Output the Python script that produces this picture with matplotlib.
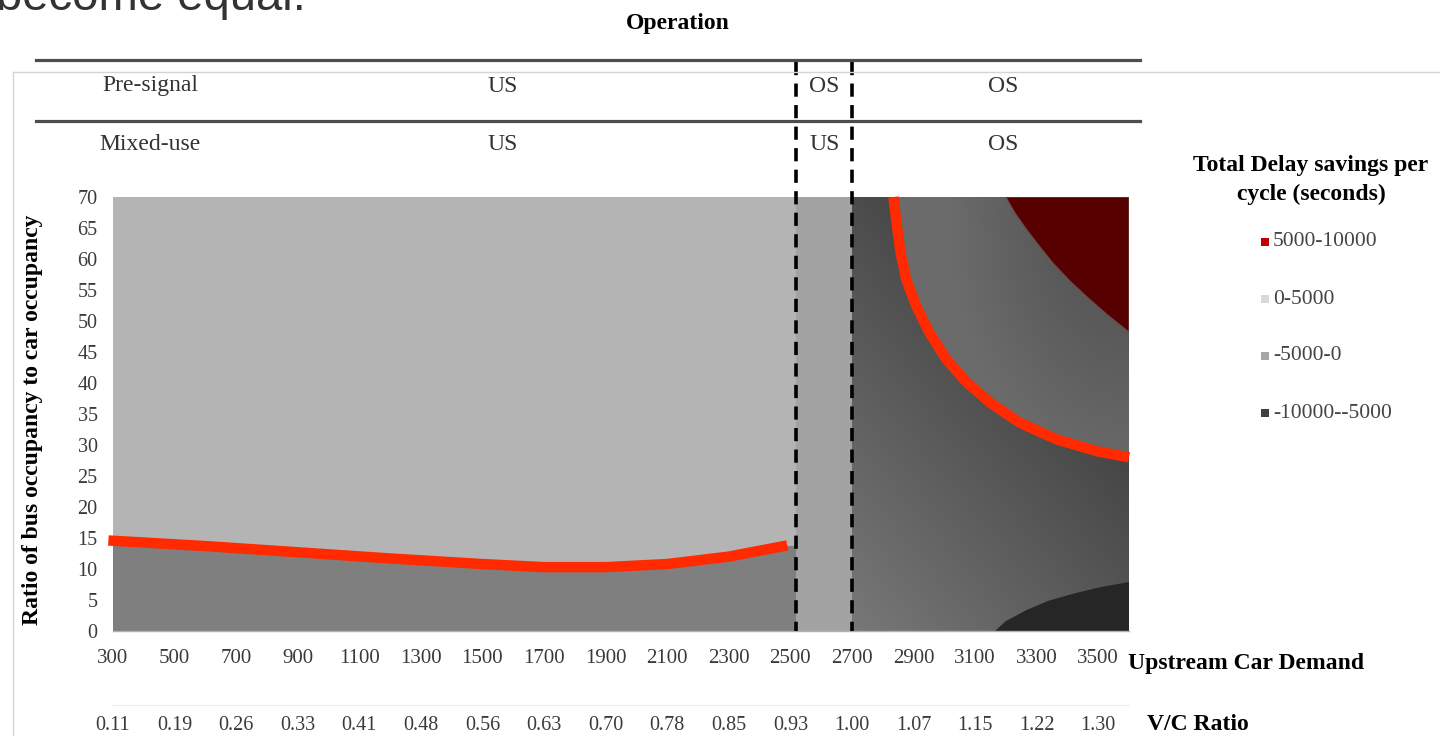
import matplotlib.pyplot as plt
import numpy as np
from matplotlib.lines import Line2D
from matplotlib.patches import Polygon, Rectangle

plt.rcParams['font.family'] = ['Liberation Serif', 'DejaVu Serif']
plt.rcParams['lines.scale_dashes'] = False

# upstream car demand ticks and the matching V/C ratio (capacity 2700)
demand_ticks = [300, 500, 700, 900, 1100, 1300, 1500, 1700, 1900,
                2100, 2300, 2500, 2700, 2900, 3100, 3300, 3500]
vc_labels = ['0.11', '0.19', '0.26', '0.33', '0.41', '0.48', '0.56', '0.63', '0.70',
             '0.78', '0.85', '0.93', '1.00', '1.07', '1.15', '1.22', '1.30']
ratio_ticks = [0, 5, 10, 15, 20, 25, 30, 35, 40, 45, 50, 55, 60, 65, 70]
demand_range = [300, 3600]
ratio_range = [0, 70]

# operating-regime boundaries (US = undersaturated, OS = oversaturated)
regime_splits = [2520, 2700]
rows = ['Pre-signal', 'Mixed-use']
row_ops = [['US', 'OS', 'OS'],
           ['US', 'US', 'OS']]
op_label_x = [1565, 2610, 3190]

# zero-savings curve, undersaturated side
us_zero_x = [285, 600, 900, 1200, 1500, 1700, 1900, 2100, 2300, 2490]
us_zero_y = [14.6, 13.7, 12.7, 11.7, 10.8, 10.3, 10.3, 10.8, 12.0, 13.8]

# zero-savings curve, oversaturated side
os_zero_x = [2835, 2845, 2858, 2877, 2910, 2952, 3007, 3073, 3147, 3245, 3365, 3496, 3600]
os_zero_y = [70.0, 65.8, 61.0, 56.6, 52.3, 48.1, 43.8, 40.1, 36.9, 33.6, 30.9, 29.0, 28.0]

# +5000 s contour (top right) and -5000 s contour (bottom right)
high_x = [3200, 3230, 3268, 3310, 3352, 3405, 3463, 3530, 3600]
high_y = [70.0, 67.4, 64.7, 62.0, 59.4, 56.6, 53.9, 51.0, 48.2]
low_x = [3165, 3200, 3268, 3340, 3418, 3500, 3600]
low_y = [0.0, 1.6, 3.4, 4.9, 6.0, 7.0, 7.9]

legend_labels = ['5000-10000', '0-5000', '-5000-0', '-10000--5000']
legend_colors = ['#c00000', '#d9d9d9', '#a6a6a6', '#404040']

W, H = 1440, 736


def fx(p):
    return p / W


def fy(p):
    return 1 - p / H


fig = plt.figure(figsize=(W / 100, H / 100), dpi=100)
ax = fig.add_axes([fx(113), fy(631), (1129 - 113) / W, (631 - 197) / H])

# --- surface bands -----------------------------------------------------------
ax.fill_between([demand_range[0], regime_splits[0]],
                ratio_range[0], ratio_range[1], color='#b4b4b4', lw=0)
ax.fill_between(np.r_[us_zero_x, regime_splits[0]], 0,
                np.r_[us_zero_y, us_zero_y[-1]], color='#7f7f7f', lw=0)
ax.fill_between(regime_splits, ratio_range[0], ratio_range[1], color='#a3a3a3', lw=0)

# shaded region right of capacity, split by the zero curve
u, v = np.meshgrid(np.linspace(0, 1, 300), np.linspace(0, 1, 300))
below = np.clip(0.47 - 0.17 * v - 0.13 * u, 0.27, 1)
r = np.hypot(1 - u, 1 - v)
above = np.clip(0.35 + 0.2 * (r - 0.3), 0.35, 0.42)
ext = [regime_splits[1], demand_range[1], ratio_range[0], ratio_range[1]]
zero_pts = list(zip(os_zero_x, os_zero_y))

poly_below = Polygon([(regime_splits[1], 0), (regime_splits[1], 70)] + zero_pts
                     + [(demand_range[1], 0)], transform=ax.transData)
poly_above = Polygon(zero_pts + [(demand_range[1], 70)], transform=ax.transData)
for shade, poly in [(below, poly_below), (above, poly_above)]:
    im = ax.imshow(np.dstack([shade] * 3), extent=ext, origin='lower',
                   aspect='auto', interpolation='bilinear')
    im.set_clip_path(poly)

ax.add_patch(Polygon(list(zip(high_x, high_y)) + [(demand_range[1], 70)],
                     closed=True, facecolor='#560000', edgecolor='#6e4a4a', lw=0.8))
ax.add_patch(Polygon(list(zip(low_x, low_y)) + [(demand_range[1], 0)],
                     closed=True, color='#262626', lw=0))

# break-even curves
for xs, ys in [(us_zero_x, us_zero_y), (os_zero_x, os_zero_y)]:
    ax.plot(xs, ys, color='#ff2a00', lw=7.5, solid_capstyle='butt',
            solid_joinstyle='round', clip_on=False, zorder=5)

# regime boundaries run up through the header rows
for xs in regime_splits:
    ax.plot([xs, xs], [1.311, 0], transform=ax.get_xaxis_transform(),
            color='black', lw=2.6, dashes=(9.5, 6), clip_on=False, zorder=6)

ax.set_xlim(demand_range)
ax.set_ylim(ratio_range)
for s in ['top', 'right', 'left']:
    ax.spines[s].set_visible(False)
ax.spines['bottom'].set_color('#b0b0b0')
ax.spines['bottom'].set_linewidth(1)

ax.set_xticks(demand_ticks)
ax.set_xticklabels([str(d) for d in demand_ticks])
ax.set_yticks(ratio_ticks)
ax.set_yticklabels([str(t) for t in ratio_ticks])
ax.tick_params(axis='x', length=0, pad=13, labelsize=15, labelcolor='#3a3a3a')
ax.tick_params(axis='y', length=0, pad=11, labelsize=14.5, labelcolor='#3a3a3a')

sec = ax.secondary_xaxis(-0.17)
sec.set_xticks(demand_ticks, labels=vc_labels)
sec.tick_params(length=0, pad=8, labelsize=14.5, labelcolor='#3a3a3a')
sec.spines['bottom'].set_color('#ececec')

# --- header ------------------------------------------------------------------
fig.text(fx(306), fy(10), 'become equal.', ha='right', va='baseline',
         fontsize=34, family='Liberation Sans', color='#333333')

fig.add_artist(Line2D([fx(13), 1], [fy(72), fy(72)], color='#d4d4d4', lw=1))
fig.add_artist(Line2D([fx(13), fx(13)], [fy(72), 0], color='#d4d4d4', lw=1))

fig.text(fx(678), fy(23), 'Operation', ha='center', va='center',
         fontsize=17, fontweight='bold')
for yl in [60, 121]:
    fig.add_artist(Line2D([fx(36), fx(1140)], [fy(yl), fy(yl)],
                          color='#4d4d4d', lw=2.3))

row_y = [86, 145]
for name, ops, yr in zip(rows, row_ops, row_y):
    fig.text(fx(150), fy(yr), name, ha='center', va='center',
             fontsize=17, color='#333333')
    for op, xo in zip(ops, op_label_x):
        ax.text(xo, (631 - yr) / 434, op, transform=ax.get_xaxis_transform(),
                ha='center', va='center', fontsize=17, color='#333333')

# --- axis titles -------------------------------------------------------------
fig.text(fx(33), fy(420), 'Ratio of bus occupancy to car occupancy', rotation=90,
         ha='center', va='center', fontsize=17, fontweight='bold')
fig.text(fx(1128), fy(663), 'Upstream Car Demand', ha='left', va='center',
         fontsize=17, fontweight='bold')
fig.text(fx(1147), fy(725), 'V/C Ratio', ha='left', va='center',
         fontsize=17, fontweight='bold')

# --- legend ------------------------------------------------------------------
fig.text(fx(1311), fy(165), 'Total Delay savings per', ha='center', va='center',
         fontsize=17, fontweight='bold')
fig.text(fx(1311), fy(194), 'cycle (seconds)', ha='center', va='center',
         fontsize=17, fontweight='bold')
for i, (lab, col) in enumerate(zip(legend_labels, legend_colors)):
    yc = 242 + 57 * i
    fig.add_artist(Rectangle((fx(1261), fy(yc + 4)), 8 / W, 8 / H,
                             transform=fig.transFigure, color=col, lw=0))
    fig.text(fx(1273), fy(yc), lab, ha='left', va='center',
             fontsize=15.5, color='#444444')

fig.savefig('out.png', dpi=100)
